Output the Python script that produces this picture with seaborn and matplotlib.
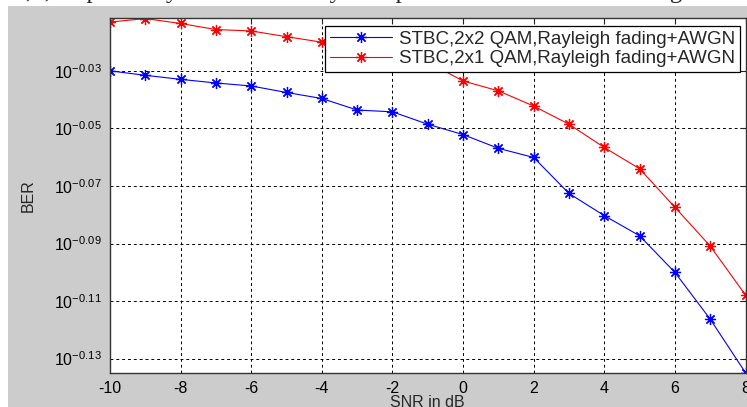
import numpy as np
import pandas as pd
import seaborn as sns
import matplotlib.pyplot as plt
from matplotlib.patches import Rectangle
from matplotlib.ticker import NullLocator

# data
snr_db = [-10, -9, -8, -7, -6, -5, -4, -3, -2, -1, 0, 1, 2, 3, 4, 5, 6, 7, 8]
ber_2x2 = [0.9333, 0.9300, 0.9270, 0.9243, 0.9221, 0.9173, 0.9129, 0.9045, 0.9032,
           0.8943, 0.8869, 0.8772, 0.8708, 0.8461, 0.8312, 0.8179, 0.7943, 0.7651, 0.7330]
ber_2x1 = [0.9705, 0.9732, 0.9694, 0.9647, 0.9636, 0.9592, 0.9550, 0.9504, 0.9458,
           0.9399, 0.9258, 0.9185, 0.9074, 0.8943, 0.8778, 0.8630, 0.8368, 0.8112, 0.7800]
label_2x2 = "STBC,2x2 QAM,Rayleigh fading+AWGN"
label_2x1 = "STBC,2x1 QAM,Rayleigh fading+AWGN"
ytick_exps = [-0.13, -0.11, -0.09, -0.07, -0.05, -0.03]
xticks = [-10, -8, -6, -4, -2, 0, 2, 4, 6, 8]

sns.set_style("white")
plt.rcParams["font.family"] = ["Liberation Sans", "DejaVu Sans"]
plt.rcParams["mathtext.default"] = "regular"

W, H = 747, 407
fig = plt.figure(figsize=(W / 100, H / 100), dpi=100)
fig.patch.set_facecolor("white")

# cut-off line of the surrounding paper text and the grey figure background
fig.text(-4 / W, 1 + 2 / H, "a 2,3, respectively. The resulted system performance is shown in Figure",
         family="Liberation Serif", fontsize=18, va="baseline", ha="left", zorder=-2)
fig.add_artist(Rectangle((8 / W, 0), 1, 1 - 6 / H, transform=fig.transFigure,
                         facecolor="#cccccc", edgecolor="none", zorder=-1))

ax = fig.add_axes([110 / W, 34.3 / H, 635.5 / W, 354.4 / H])
ax.set_facecolor("white")

# MATLAB-style asterisk markers
asterisk = (8, 2, 0)
sns.lineplot(x=snr_db, y=ber_2x2, color="blue", marker=asterisk, markersize=8,
             markeredgecolor="blue", markeredgewidth=0.9, linewidth=0.8,
             label=label_2x2, ax=ax)
sns.lineplot(x=snr_db, y=ber_2x1, color="red", marker=asterisk, markersize=8,
             markeredgecolor="red", markeredgewidth=0.9, linewidth=0.8,
             label=label_2x1, ax=ax)

ax.set_yscale("log")
ax.set_xlim(-10, 8)
ax.set_ylim(10 ** -0.1349, 10 ** -0.0117)
ax.set_xticks(xticks)
ax.set_xticklabels([str(x) for x in xticks])
ax.set_yticks([10 ** e for e in ytick_exps])
ax.set_yticklabels([f"$10^{{{e:.2f}}}$" for e in ytick_exps])
ax.yaxis.set_minor_locator(NullLocator())

ax.grid(True, color="black", linestyle=(0, (3, 3)), linewidth=0.7)
ax.tick_params(direction="in", top=True, right=True, length=4.5, width=0.8,
               labelsize=11.5, pad=6, colors="#222222", labelcolor="black")
for s in ax.spines.values():
    s.set_color("#333333")
    s.set_linewidth(1)

ax.set_xlabel("SNR in dB", fontsize=11.5, labelpad=-1)
ax.set_ylabel("BER", fontsize=11.5, labelpad=13)

leg = ax.legend(loc="upper right", bbox_to_anchor=(0.9913, 0.9783), borderaxespad=0,
                frameon=True, fancybox=False, edgecolor="black", framealpha=1,
                handlelength=3.3, handletextpad=0.4, labelspacing=0.12, borderpad=0.25,
                fontsize=13.5)
leg.get_frame().set_linewidth(0.9)

fig.savefig("out.png", dpi=100)
